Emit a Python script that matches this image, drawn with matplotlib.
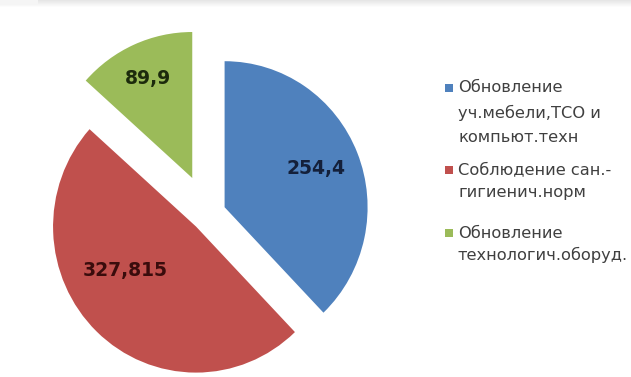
import numpy as np
import matplotlib
matplotlib.use("Agg")
import matplotlib.pyplot as plt
from matplotlib.patches import Rectangle

# данные диаграммы
categories = [
    "Обновление\nуч.мебели,ТСО и\nкомпьют.техн",
    "Соблюдение сан.-\nгигиенич.норм",
    "Обновление\nтехнологич.оборуд.",
]
values = [254.4, 327.815, 89.9]
value_labels = ["254,4", "327,815", "89,9"]

colors = ["#4F81BD", "#C0504D", "#9BBB59"]
text_colors = ["#14203a", "#3a0c0c", "#1c2a0c"]
explode = [0.125, 0.12, 0.27]
label_dist = [0.69, 0.58, 0.75]
label_shift = [1, -15, 0]

W, H = 631, 377
fig = plt.figure(figsize=(W / 100, H / 100), dpi=100)
fig.patch.set_facecolor("white")

# светло-серая полоса сверху
band = fig.add_axes([0, 1 - 8 / H, 1, 8 / H])
grad = np.linspace(0.90, 1.0, 8).reshape(-1, 1) * np.ones((1, 50))
grad[:, :3] = np.maximum(grad[:, :3], 0.96)
band.imshow(grad, cmap="gray", vmin=0, vmax=1, aspect="auto")
band.axis("off")

ax = fig.add_axes([0, 0, 1, 1])
wedges, _ = ax.pie(values, colors=colors, explode=explode, startangle=90,
                   counterclock=False, radius=1)

# масштаб: пикселей на единицу радиуса
cx, cy = 208, 214
sx, sy = 143, 146
ax.set_xlim(-cx / sx, (W - cx) / sx)
ax.set_ylim(-(H - cy) / sy, cy / sy)
ax.set_aspect("auto")
ax.axis("off")

for w, lab, d, sh, tc in zip(wedges, value_labels, label_dist, label_shift, text_colors):
    ang = np.deg2rad((w.theta1 + w.theta2) / 2 + sh)
    x = w.center[0] + d * w.r * np.cos(ang)
    y = w.center[1] + d * w.r * np.sin(ang)
    ax.text(x, y, lab, ha="center", va="center", fontsize=13.5,
            fontweight="bold", color=tc, family="DejaVu Sans")

# легенда
leg_y = [88, 170, 233]
leg_sp = [1.72, 1.62, 1.47]
for lab, col, yy, sp in zip(categories, colors, leg_y, leg_sp):
    fig.patches.append(Rectangle((445 / W, 1 - (yy + 4) / H), 8 / W, 8 / H,
                                 transform=fig.transFigure, facecolor=col,
                                 edgecolor="none"))
    fig.text(458 / W, 1 - (yy - 7.5) / H, lab, ha="left", va="top",
             fontsize=11.7, color="#404040", linespacing=sp,
             family="DejaVu Sans")

fig.savefig("out.png", dpi=100)
